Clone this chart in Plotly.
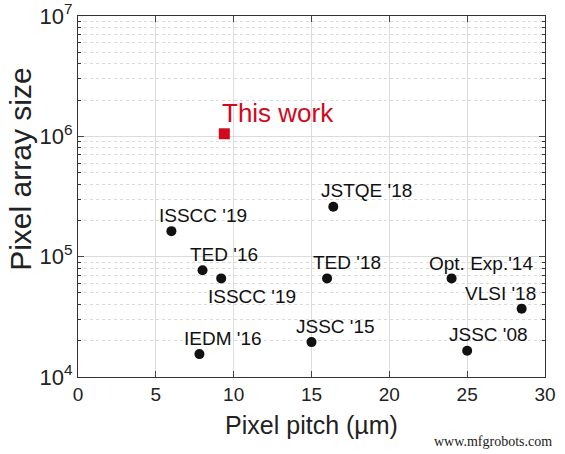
import numpy as np
import plotly.graph_objects as go

# 比較対象のデータ (Pixel pitch [um], Pixel array size)
ref_labels = ["JSTQE '18", "ISSCC '19", "TED '16", "ISSCC '19", "TED '18",
              "Opt. Exp.'14", "VLSI '18", "JSSC '15", "IEDM '16", "JSSC '08"]
ref_pitch = [16.4, 6.0, 8.0, 9.2, 16.0, 24.0, 28.5, 15.0, 7.8, 25.0]
ref_size = [2.6e5, 1.63e5, 7.7e4, 6.6e4, 6.6e4, 6.6e4, 3.7e4, 1.95e4, 1.55e4, 1.65e4]

this_label = "This work"
this_pitch = [9.4]
this_size = [1.05e6]

x_ticks = [0, 5, 10, 15, 20, 25, 30]
y_ticks = [1e4, 1e5, 1e6, 1e7]
y_ticktext = ["10<sup>4</sup>", "10<sup>5</sup>", "10<sup>6</sup>", "10<sup>7</sup>"]

# ラベル位置 (px)
label_shift = [(33, 16), (32, 16), (21, 16), (31, -18), (20, 16),
               (29, 15), (-21, 15), (24, 16), (24, 16), (21, 16)]

minor_y = [m * 10 ** e for e in range(4, 7) for m in range(2, 10)]

fig = go.Figure()
fig.add_trace(go.Scatter(x=ref_pitch, y=ref_size, mode='markers',
                         marker=dict(color='#111111', size=10, symbol='circle'),
                         showlegend=False))
fig.add_trace(go.Scatter(x=this_pitch, y=this_size, mode='markers',
                         marker=dict(color='#d2091c', size=11, symbol='square'),
                         showlegend=False))

# log軸なので注釈のyはlog10で指定
for lab, px, sz, (dx, dy) in zip(ref_labels, ref_pitch, ref_size, label_shift):
    fig.add_annotation(x=px, y=np.log10(sz), text=lab, showarrow=False,
                       xanchor='center', yanchor='middle', xshift=dx, yshift=dy,
                       font=dict(family='Liberation Sans', size=19, color='#111111'))

fig.add_annotation(x=this_pitch[0], y=np.log10(this_size[0]), text=this_label, showarrow=False,
                   xanchor='left', yanchor='middle', xshift=-4, yshift=21,
                   font=dict(family='Liberation Sans', size=26, color='#d2091c'))

# y軸タイトル (少し上寄せ)
fig.add_annotation(x=-0.163, y=0.575, xref='paper', yref='paper', text='Pixel array size',
                   showarrow=False, textangle=-90, xanchor='left', yanchor='middle',
                   font=dict(family='Liberation Sans', size=30, color='#222222'))

# 透かし
fig.add_annotation(x=1.02, y=-0.18, xref='paper', yref='paper', text='www.mfgrobots.com',
                   showarrow=False, xanchor='right', yanchor='middle',
                   font=dict(family='Liberation Serif', size=14, color='#222222'))

fig.update_xaxes(range=[0, 30], tickvals=x_ticks, ticks='inside', ticklen=6,
                 showline=True, linecolor='#333333', linewidth=1.2, mirror='ticks',
                 showgrid=True, gridcolor='#dcdcdc', gridwidth=1, zeroline=False,
                 automargin=False,
                 tickfont=dict(family='Liberation Sans', size=19, color='#222222'),
                 title=dict(text='Pixel pitch (µm)', standoff=12,
                            font=dict(family='Liberation Sans', size=25, color='#222222')))
fig.update_yaxes(type='log', range=[4, 7], tickvals=y_ticks, ticktext=y_ticktext,
                 ticks='inside', ticklen=6,
                 showline=True, linecolor='#333333', linewidth=1.2, mirror='ticks',
                 showgrid=True, gridcolor='#dcdcdc', gridwidth=1, zeroline=False,
                 automargin=False,
                 minor=dict(tickvals=minor_y, ticks='inside', ticklen=3, tickcolor='#333333',
                            showgrid=True, gridcolor='#dadada', griddash='dot', gridwidth=1),
                 tickfont=dict(family='Liberation Sans', size=22, color='#222222'))

fig.update_layout(width=565, height=454, plot_bgcolor='white', paper_bgcolor='white',
                  margin=dict(l=78, r=20, t=16, b=77))

# ページの余白を消す
fig.write_html("out.html", config={'displayModeBar': False},
               post_script="document.body.style.margin='0';")
